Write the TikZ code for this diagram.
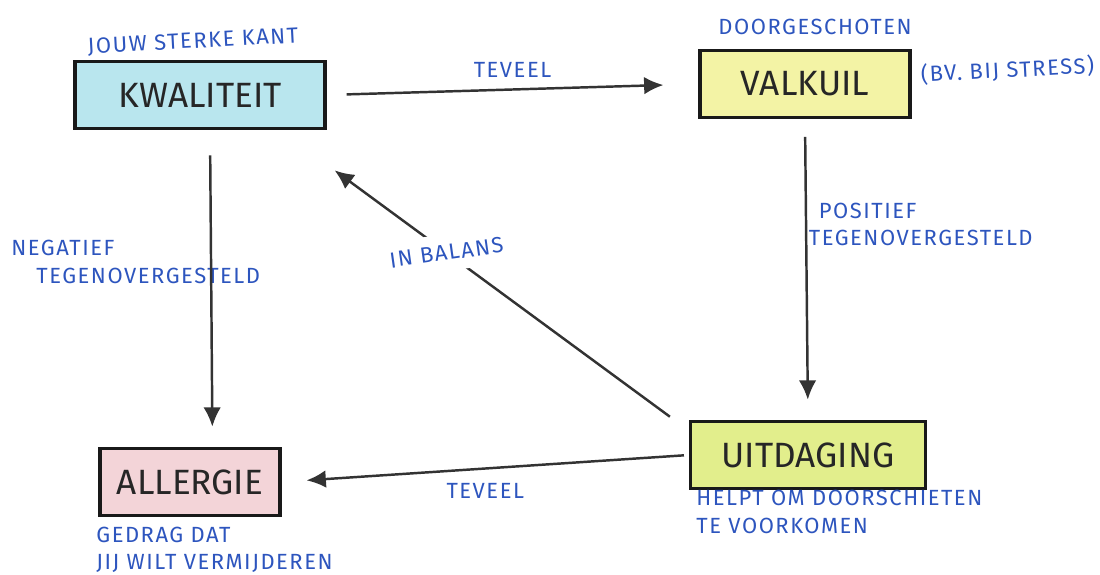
\documentclass[tikz,border=0pt]{standalone}
\usepackage{fontspec}
\setmainfont{Fira Sans}
\newfontfamily\penletter{Fira Sans}[LetterSpace=7]
\usepackage{xcolor}
\usepackage{tikz}
\usetikzlibrary{arrows.meta,positioning}
\definecolor{penblauw}{RGB}{45,85,190}
\definecolor{kwalblauw}{RGB}{185,230,238}
\definecolor{valkgeel}{RGB}{243,243,165}
\definecolor{allroze}{RGB}{243,212,216}
\definecolor{uitgroen}{RGB}{226,238,140}

\begin{document}
\begin{tikzpicture}
      \tikzstyle{every node}=[inner sep=2pt]
      \tikzstyle{kwadrant}=[draw=black!90, line width=1.8pt, font=\fontsize{20}{22}\selectfont, text=black!85, minimum height=1.35cm]
      \tikzstyle{uitleg}=[text=penblauw, font=\penletter\fontsize{12.5}{15.5}\selectfont, align=left]
      \tikzstyle{pijl}=[->,>={Latex[length=11pt,width=10pt]}, line width=1.4pt, draw=black!80]
      \useasboundingbox (0,0) rectangle (22,11.48);
      % de vier kwadranten
      \node[kwadrant, fill=kwalblauw, minimum width=5cm] (kwaliteit) at (4.0,9.58) {KWALITEIT};
      \node[kwadrant, fill=valkgeel, minimum width=4.2cm] (valkuil) at (16.1,9.8) {VALKUIL};
      \node[kwadrant, fill=allroze, minimum width=3.6cm] (allergie) at (3.8,1.84) {ALLERGIE};
      \node[kwadrant, fill=uitgroen, minimum width=4.7cm] (uitdaging) at (16.16,2.38) {UITDAGING};
      % toelichting
      \node[uitleg, rotate=3] (sterk) at (3.86,10.64) {JOUW STERKE KANT};
      \node[uitleg] (doorgeschoten) at (16.3,10.94) {DOORGESCHOTEN};
      \node[uitleg, rotate=3] (stress) at (20.15,10.08) {(BV. BIJ STRESS)};
      \node[uitleg, anchor=north west] (negatief) at (0.15,6.75) {NEGATIEF\\\hspace{0.5cm}TEGENOVERGESTELD};
      \node[uitleg, anchor=north west] (positief) at (16.1,7.5) {\hspace{0.2cm}POSITIEF\\TEGENOVERGESTELD};
      \node[uitleg, anchor=north west] (gedrag) at (1.85,1.02) {GEDRAG DAT\\JIJ WILT VERMIJDEREN};
      \node[uitleg, anchor=north west] (helpt) at (13.85,1.75) {HELPT OM DOORSCHIETEN\\TE VOORKOMEN};
      % pijlen
      \draw[pijl, shorten <=0.4cm, shorten >=0.7cm] (kwaliteit.east) -- node[uitleg, above=4pt] (teveel1) {TEVEEL} (valkuil.west);
      \draw[pijl, shorten <=0.35cm, shorten >=0.4cm] (valkuil.south) -- (uitdaging.north);
      \draw[pijl, shorten <=0.5cm, shorten >=0.4cm] ([xshift=0.2cm]kwaliteit.south) -- ([xshift=0.45cm]allergie.north);
      \draw[pijl, shorten <=0.1cm, shorten >=0.5cm] (uitdaging.west) -- node[uitleg, below=6pt] (teveel2) {TEVEEL} (allergie.east);
      \draw[pijl, shorten <=0.1cm] ([xshift=-0.3cm]uitdaging.north west) -- node[pos=0.67, uitleg, fill=white, rotate=8, inner sep=6pt] (balans) {IN BALANS} ([shift={(0.16,-0.8)}]kwaliteit.south east);
      %    \draw[pijl] (allergie) -- (valkuil);
\end{tikzpicture}
\end{document}
